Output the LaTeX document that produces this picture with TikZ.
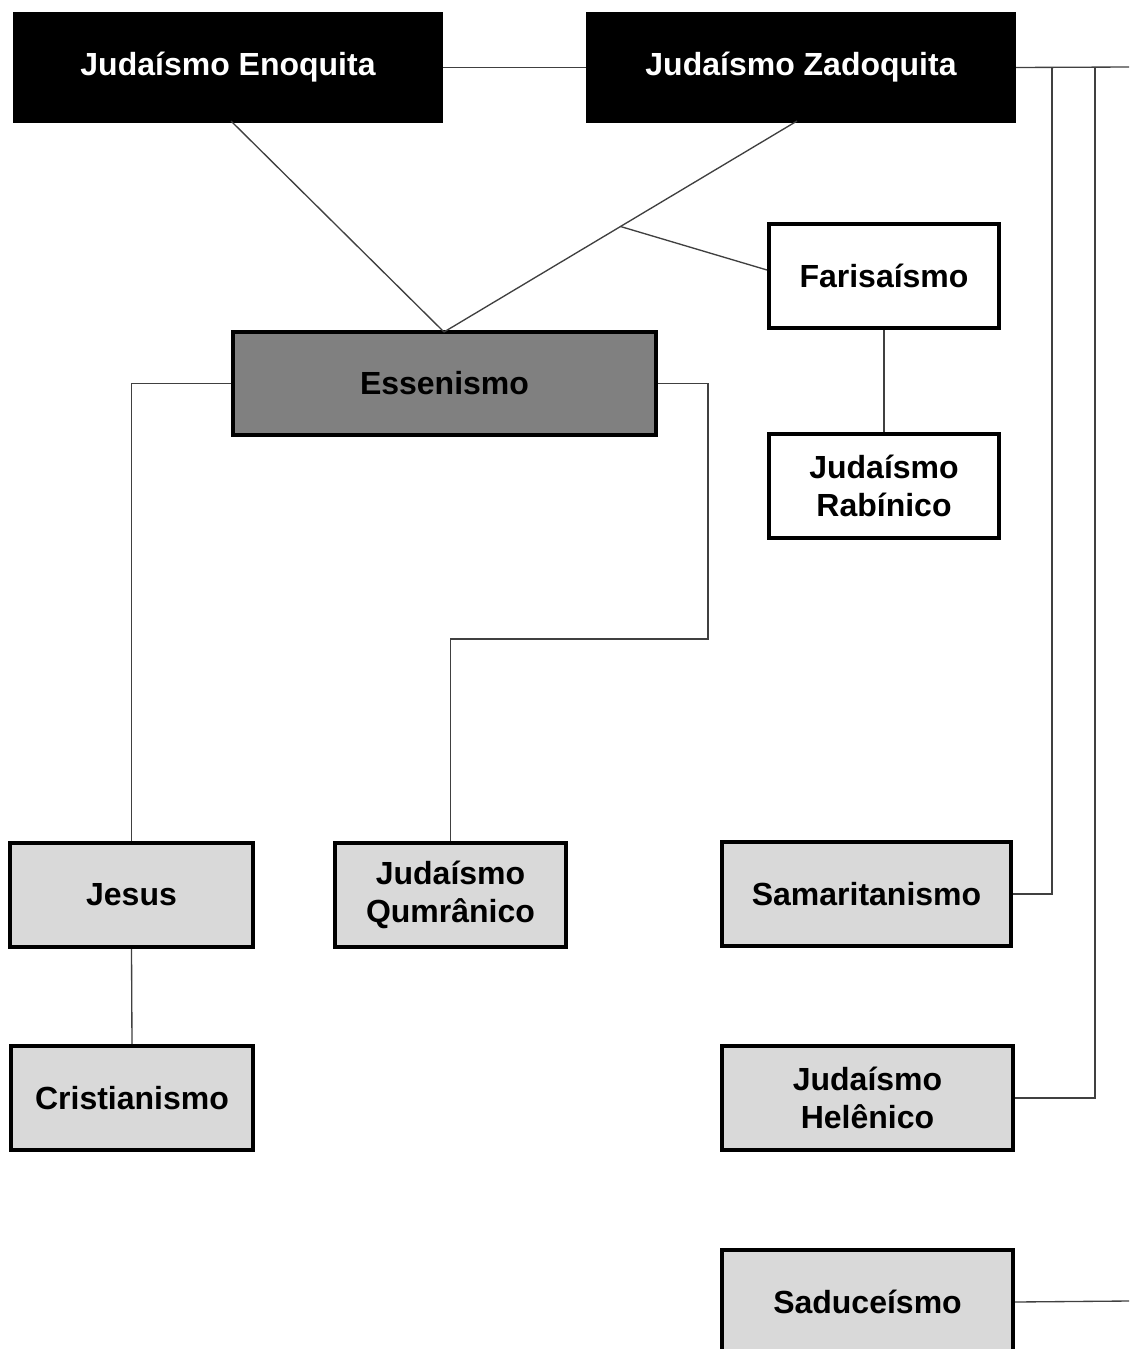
\documentclass[tikz,border=0pt]{standalone}
\usepackage{fontspec}
\setmainfont{Liberation Sans}
\begin{document}
\begin{tikzpicture}[x=0.75pt,y=-0.75pt,
  box/.style={draw=black,line width=3pt,rectangle,inner sep=0pt,align=center,
    font=\fontsize{24}{28.5}\selectfont\bfseries},
  topbox/.style={box,fill=black,text=white,minimum width=319.5pt,minimum height=80.25pt},
  whitebox/.style={box,fill=white,minimum width=172.5pt,minimum height=78pt},
  midbox/.style={box,fill={rgb,255:red,128;green,128;blue,128},line width=3.3pt,minimum width=317.25pt,minimum height=77.25pt},
  lightbox/.style={box,fill={rgb,255:red,217;green,217;blue,217},minimum height=78pt},
  conn/.style={draw={rgb,255:red,64;green,64;blue,64},line width=1pt}]
\clip (0,0) rectangle (1129,1349);
\useasboundingbox (0,0) rectangle (1129,1349);
\fill[white] (0,0) rectangle (1129,1349);
% nodes
\node[topbox] (eno) at (228,67.5) {Judaísmo Enoquita};
\node[topbox] (zad) at (801,67.5) {Judaísmo Zadoquita};
\node[whitebox] (far) at (884,276) {Farisaísmo};
\node[whitebox] (rab) at (884,485.5) {Judaísmo\\Rabínico};
\node[midbox] (ess) at (444.5,383.5) {Essenismo};
\node[lightbox,minimum width=182.25pt] (jes) at (131.5,895) {Jesus};
\node[lightbox,minimum width=173.25pt] (qum) at (450.5,895) {Judaísmo\\Qumrânico};
\node[lightbox,minimum width=181.5pt] (cri) at (132,1098) {Cristianismo};
\node[lightbox,minimum width=216.75pt] (sam) at (866.5,894) {Samaritanismo};
\node[lightbox,minimum width=218.25pt] (hel) at (867.5,1098) {Judaísmo\\Helênico};
\node[lightbox,minimum width=218.25pt] (sad) at (867.5,1302) {Saduceísmo};
% coordinates
\coordinate (eS) at (231,121);
\coordinate (zS) at (797,121);
\coordinate (essT) at (444,332);
\coordinate (rE) at (1129,67);
\coordinate (rS) at (1129,1301);
% connectors
\draw[conn] (eno.east) -- (zad.west);
\draw[conn] (zad.east) -- (rE);
\draw[conn] (eS) -- (essT);
\draw[conn] (zS) -- coordinate[pos=0.5] (br) (essT);
\draw[conn] (br) -- ([yshift=4.5pt]far.west);
\draw[conn] (far.south) -- (rab.north);
\draw[conn] (1052,67) |- (sam.east);
\draw[conn] (1095,67) |- (hel.east);
\draw[conn] (sad.east) -- (rS);
\draw[conn] (ess.west) -| (jes.north);
\draw[conn] (ess.east) -| (708,639) -| (qum.north);
\draw[conn] (jes.south) -- (cri.north);
\end{tikzpicture}
\end{document}
